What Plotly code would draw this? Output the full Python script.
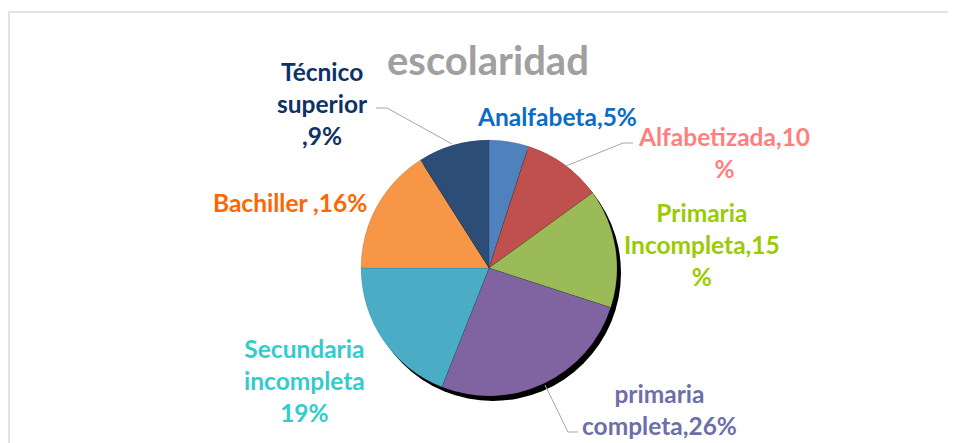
import plotly.graph_objects as go

# the page body has an 8px margin, so the figure is drawn 8px in from the corner
OFF = 8
W, H = 948, 435

categorias = ["Analfabeta", "Alfabetizada", "Primaria Incompleta", "primaria completa",
              "Secundaria incompleta", "Bachiller", "Técnico superior"]
porcentajes = [5, 10, 15, 26, 19, 16, 9]
colores = ["#4F81BD", "#C0504D", "#9BBB59", "#8064A2", "#4BACC6", "#F79646", "#2C4D75"]
etiquetas = ["Analfabeta,5%", "Alfabetizada,10<br>%", "Primaria<br>Incompleta,15<br>%",
             "primaria<br>completa,26%", "Secundaria<br>incompleta<br>19%",
             "Bachiller ,16%", "Técnico<br>superior<br>,9%"]
colores_txt = ["#0B6CC8", "#FF7F7F", "#99CC00", "#6E6EA8", "#33CCCC", "#FF6600", "#0D3266"]
# label centres in screen pixels
pos_txt = [(557, 116), (724, 153), (702, 244), (659, 409), (304, 380), (290, 202), (322, 103)]


def px(x, y):
    return (x - OFF) / W, 1 - (y - OFF) / H


cx, cy, r = 489, 268, 128


def dominio(dx=0, dy=0):
    x0, y0 = px(cx - r + dx, cy + r + dy)
    x1, y1 = px(cx + r + dx, cy - r + dy)
    return dict(x=[x0, x1], y=[y0, y1])


fig = go.Figure()

# shadow
fig.add_trace(go.Pie(values=[1], marker=dict(colors=["#000000"], line=dict(width=0)),
                     textinfo="none", hoverinfo="skip", showlegend=False,
                     domain=dominio(4, 5), sort=False))

fig.add_trace(go.Pie(labels=categorias, values=porcentajes, sort=False,
                     direction="clockwise", rotation=0,
                     marker=dict(colors=colores, line=dict(width=0.4, color="rgba(0,0,0,0.25)")),
                     textinfo="none", showlegend=False, domain=dominio()))

for t, c, (x, y) in zip(etiquetas, colores_txt, pos_txt):
    ax, ay = px(x, y)
    fig.add_annotation(x=ax, y=ay, xref="paper", yref="paper", text=t, showarrow=False,
                       xanchor="center", yanchor="middle", align="center",
                       font=dict(family="Lato", size=24.5, color=c, weight="bold"))

# leader lines
guias = [
    [(376, 108), (387, 108), (452, 144)],
    [(633, 143), (623, 143), (566, 166)],
    [(578, 432), (568, 432), (545, 385)],
]
for g in guias:
    pts = [px(*p) for p in g]
    path = "M " + " L ".join(f"{a},{b}" for a, b in pts)
    fig.add_shape(type="path", path=path, xref="paper", yref="paper",
                  line=dict(color="#A6A6A6", width=1))

# chart frame
x0, y1 = px(9, 12)
fig.add_shape(type="rect", xref="paper", yref="paper", x0=x0, y0=-0.05, x1=1.05, y1=y1,
              line=dict(color="#D9D9D9", width=1.5), layer="below")

tx, ty = px(488, 60)
fig.add_annotation(x=tx, y=ty, xref="paper", yref="paper", text="escolaridad", showarrow=False,
                   xanchor="center", yanchor="middle",
                   font=dict(family="Lato", size=40, color="#A0A0A0", weight="bold"))

fig.update_layout(width=W, height=H, margin=dict(l=0, r=0, t=0, b=0),
                  paper_bgcolor="white", plot_bgcolor="white")

fig.write_html("out.html")
